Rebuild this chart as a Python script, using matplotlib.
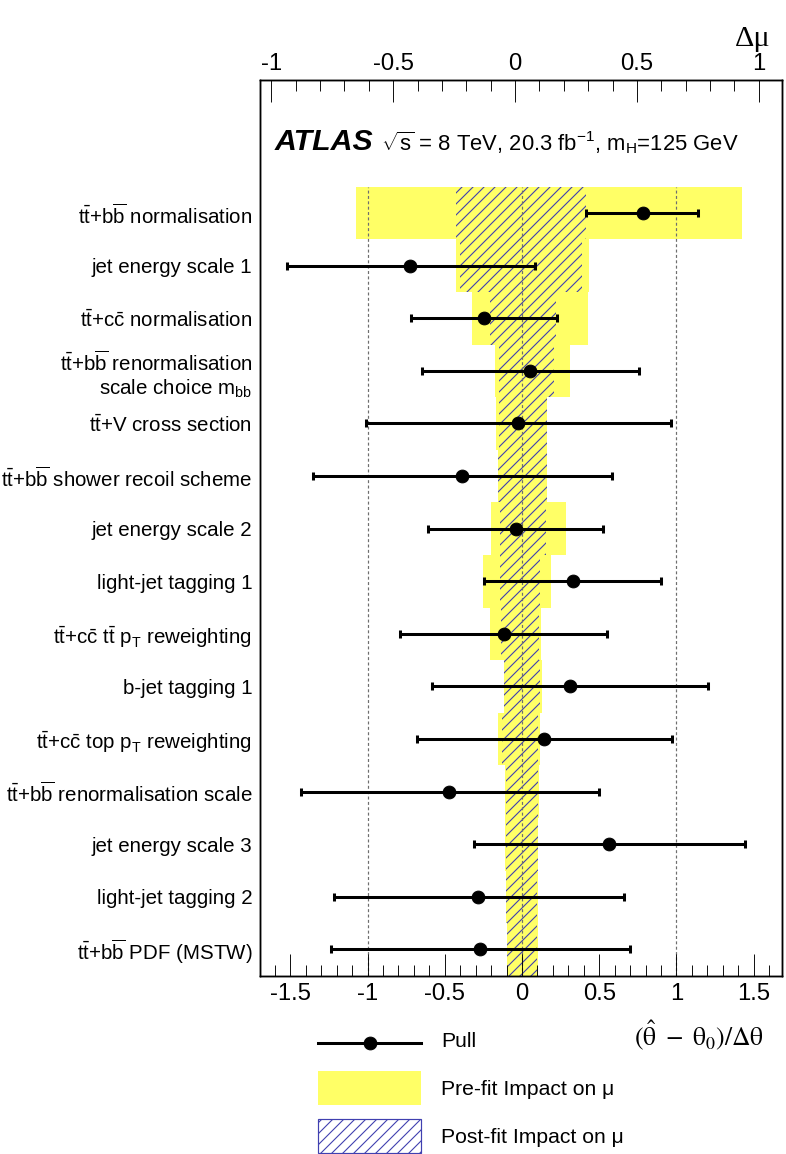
import matplotlib
matplotlib.use("Agg")
import matplotlib.pyplot as plt
import numpy as np
from matplotlib.lines import Line2D
from matplotlib.patches import Patch
from matplotlib.legend_handler import HandlerLine2D
from matplotlib.ticker import MultipleLocator, FixedLocator, FuncFormatter

# ---------------- data ----------------
labels = [
    r"$\mathrm{t\bar{t}}$+$\mathrm{b\overline{b}}$ normalisation",
    "jet energy scale 1",
    r"$\mathrm{t\bar{t}}$+$\mathrm{c\bar{c}}$ normalisation",
    "$\\mathrm{t\\bar{t}}$+$\\mathrm{b\\overline{b}}$ renormalisation\nscale choice $\\mathrm{m_{bb}}\\hspace{0.6}$",
    r"$\mathrm{t\bar{t}}$+V cross section",
    r"$\mathrm{t\bar{t}}$+$\mathrm{b\overline{b}}$ shower recoil scheme",
    "jet energy scale 2",
    "light-jet tagging 1",
    r"$\mathrm{t\bar{t}}$+$\mathrm{c\bar{c}}$ $\mathrm{t\bar{t}}$ $\mathrm{p_{T}}$ reweighting",
    "b-jet tagging 1",
    r"$\mathrm{t\bar{t}}$+$\mathrm{c\bar{c}}$ top $\mathrm{p_{T}}$ reweighting",
    r"$\mathrm{t\bar{t}}$+$\mathrm{b\overline{b}}$ renormalisation scale",
    "jet energy scale 3",
    "light-jet tagging 2",
    r"$\mathrm{t\bar{t}}$+$\mathrm{b\overline{b}}$ PDF (MSTW)",
]

pull    = [0.78, -0.725, -0.246, 0.052, -0.028, -0.388, -0.041, 0.328,
           -0.119, 0.313, 0.142, -0.470, 0.565, -0.283, -0.272]
pull_lo = [0.366, 0.798, 0.472, 0.699, 0.984, 0.963, 0.565, 0.572,
           0.669, 0.893, 0.820, 0.960, 0.876, 0.932, 0.964]
pull_hi = [0.357, 0.809, 0.471, 0.703, 0.992, 0.971, 0.567, 0.572,
           0.667, 0.891, 0.829, 0.966, 0.880, 0.941, 0.974]

pre_lo  = [-0.652, -0.243, -0.175, -0.081, -0.078, -0.070, -0.098, -0.130,
           -0.103, -0.045, -0.068, -0.041, -0.041, -0.037, -0.034]
pre_hi  = [0.932, 0.305, 0.301, 0.226, 0.133, 0.133, 0.209, 0.148,
           0.107, 0.111, 0.103, 0.100, 0.096, 0.096, 0.093]
post_lo = [-0.242, -0.226, -0.103, -0.066, -0.066, -0.070, -0.062, -0.062,
           -0.057, -0.045, -0.055, -0.037, -0.037, -0.035, -0.034]
post_hi = [0.291, 0.275, 0.168, 0.160, 0.130, 0.131, 0.125, 0.103,
           0.098, 0.103, 0.096, 0.094, 0.094, 0.092, 0.089]

top_ticks = [-1, -0.5, 0, 0.5, 1]
bottom_ticks = [-1.5, -1, -0.5, 0, 0.5, 1, 1.5]
pull_guides = [-1, 0, 1]
legend_labels = ["Pull", "Pre-fit Impact on \u03bc", "Post-fit Impact on \u03bc"]

# ---------------- style ----------------
plt.rcParams.update({
    "font.family": ["Liberation Sans", "DejaVu Sans"],
    "mathtext.fontset": "custom",
    "mathtext.rm": "Liberation Sans",
    "mathtext.it": "Liberation Sans:italic",
    "mathtext.bf": "Liberation Sans:bold",
    "mathtext.sf": "Liberation Sans",
    "axes.unicode_minus": False,
    "hatch.linewidth": 1.2,
})

YELLOW = "#ffff66"
HATCH = "#4040b0"

DPI = 66
W, H = 786, 1154
fig = plt.figure(figsize=(W / DPI, H / DPI), dpi=DPI)

x0, x1, ytop, ybot = 260, 782, 80, 975.7
ax = fig.add_axes([x0 / W, 1 - ybot / H, (x1 - x0) / W, (ybot - ytop) / H])
axp = ax.twiny()

n = len(labels)
ypos = np.arange(n)[::-1]

pre_lo_a, pre_hi_a = np.array(pre_lo), np.array(pre_hi)
post_lo_a, post_hi_a = np.array(post_lo), np.array(post_hi)

ax.barh(ypos, pre_hi_a - pre_lo_a, left=pre_lo_a, height=1.0,
        color=YELLOW, linewidth=0, antialiased=False, zorder=1)
ax.barh(ypos, post_hi_a - post_lo_a, left=post_lo_a, height=1.0,
        facecolor="none", edgecolor=HATCH, linewidth=0, hatch="//", zorder=2)

ax.set_xlim(-1.046, 1.095)
ax.set_ylim(-0.5, 16.53)
axp.set_xlim(-1.696, 1.683)

# guide lines
axp.vlines(pull_guides, -0.5, n - 0.5, colors="#6e6e6e",
           linestyles=(0, (2.5, 2.0)), linewidth=1.3, zorder=1)

axp.errorbar(pull, ypos, xerr=[pull_lo, pull_hi], fmt="o", color="black",
             ms=14, elinewidth=3.3, capsize=4.2, capthick=3.3, zorder=3)

# axes / ticks
fmt = FuncFormatter(lambda v, p: "%g" % v)
ax.xaxis.tick_top()
ax.xaxis.set_major_locator(FixedLocator(top_ticks))
ax.xaxis.set_minor_locator(MultipleLocator(0.1))
ax.xaxis.set_major_formatter(fmt)
ax.tick_params(axis="x", which="major", direction="in", length=24, width=1,
               labelsize=26, pad=5.5, top=True, bottom=False)
ax.tick_params(axis="x", which="minor", direction="in", length=12, width=1,
               top=True, bottom=False)

axp.xaxis.tick_bottom()
axp.xaxis.set_major_locator(FixedLocator(bottom_ticks))
axp.xaxis.set_minor_locator(MultipleLocator(0.1))
axp.xaxis.set_major_formatter(fmt)
axp.tick_params(axis="x", which="major", direction="in", length=24, width=1,
                labelsize=26, pad=8.5, top=False, bottom=True)
axp.tick_params(axis="x", which="minor", direction="in", length=12, width=1,
                top=False, bottom=True)

ax.set_yticks(ypos)
ax.set_yticklabels(labels)
ax.tick_params(axis="y", length=0, pad=8.5, labelsize=22.3)

for a in (ax, axp):
    for s in a.spines.values():
        s.set_linewidth(1.6)

# texts
fig.text(275 / W, 1 - 150 / H, "ATLAS", fontsize=33, fontweight="bold",
         fontstyle="italic", va="baseline", ha="left")
fig.text(381 / W, 1 - 150 / H,
         r"$\sqrt{\mathrm{s}}$ = 8 TeV, 20.3 fb$^{-1}$, m$_{\mathrm{H}}$=125 GeV",
         fontsize=24, va="baseline", ha="left")
fig.text(771 / W, 1 - 46 / H, "\u0394\u03bc", fontsize=33,
         family=["Liberation Serif", "DejaVu Serif"], va="baseline", ha="right")
fig.text(764 / W, 1 - 1045 / H, r"$\mathrm{(\hat{\theta}\ -\ \theta_{0})/\Delta\theta}$",
         fontsize=28, va="baseline", ha="right", math_fontfamily="stix")


# legend
class CenteredLineHandler(HandlerLine2D):
    def create_artists(self, legend, orig_handle, xdescent, ydescent,
                       width, height, fontsize, trans):
        artists = super().create_artists(legend, orig_handle, xdescent,
                                         ydescent, width, height, fontsize,
                                         trans)
        yc = height / 2 - ydescent * 1.25
        for a in artists:
            a.set_ydata(np.full_like(np.asarray(a.get_xdata(), float), yc))
        return artists


fs_leg = 23
fs_px = fs_leg * DPI / 72
box_h = 34 / fs_px
pull_handle = Line2D([], [], color="black", lw=3.3, marker="o", ms=14)
handles = [
    pull_handle,
    Patch(facecolor=YELLOW, linewidth=0),
    Patch(facecolor="white", edgecolor=HATCH, hatch="//", linewidth=1.3),
]
fig.legend(handles, legend_labels, loc="upper left",
           bbox_to_anchor=(318 / W, 1 - 1023 / H), frameon=False,
           fontsize=fs_leg, handlelength=103 / fs_px,
           handleheight=(box_h - 0.245) / 0.65,
           labelspacing=14 / fs_px, handletextpad=20 / fs_px,
           borderpad=0, borderaxespad=0, numpoints=1,
           handler_map={pull_handle: CenteredLineHandler()})

fig.savefig("out.png", dpi=DPI)
